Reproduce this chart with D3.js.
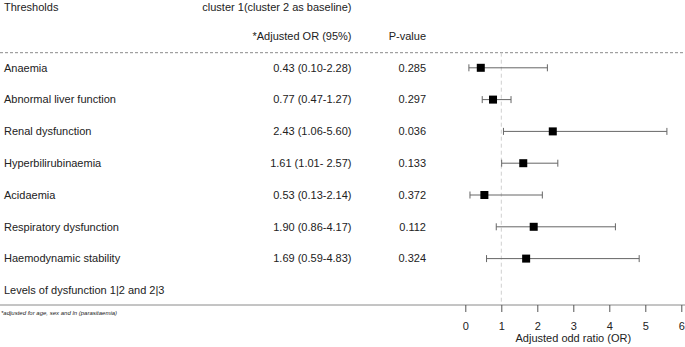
<!DOCTYPE html>
<html lang="en">
<head>
    <meta charset="UTF-8">
    <script src="https://d3js.org/d3.v7.min.js"></script>
    <title>Forest plot</title>
    <style>
      body { margin: 0; background: #fff; }
      text { font-family: "Liberation Sans", Arial, sans-serif; fill: #222; }
    </style>
</head>
<body>
    <script>
    // data
    var thresholds = ["Anaemia", "Abnormal liver function", "Renal dysfunction", "Hyperbilirubinaemia",
        "Acidaemia", "Respiratory dysfunction", "Haemodynamic stability"]
    var orValues = [0.43, 0.77, 2.43, 1.61, 0.53, 1.90, 1.69]
    var ciLow = [0.10, 0.47, 1.06, 1.01, 0.13, 0.86, 0.59]
    var ciHigh = [2.28, 1.27, 5.60, 2.57, 2.14, 4.17, 4.83]
    var orLabels = ["0.43 (0.10-2.28)", "0.77 (0.47-1.27)", "2.43 (1.06-5.60)", "1.61 (1.01- 2.57)",
        "0.53 (0.13-2.14)", "1.90 (0.86-4.17)", "1.69 (0.59-4.83)"]
    var pValues = ["0.285", "0.297", "0.036", "0.133", "0.372", "0.112", "0.324"]
    var xTicks = [0, 1, 2, 3, 4, 5, 6]
    var lastRow = "Levels of dysfunction 1|2 and 2|3"

    var width = 685, height = 347
    var axisY = 305, headLineY = 52.7

    var svg = d3.select("body").append("svg")
        .attr("width", width)
        .attr("height", height)

    var x = d3.scaleLinear()
        .domain([0, 6])
        .range([465.3, 681.3])

    // row positions (7 thresholds + the closing "Levels" row)
    var y = d3.scalePoint()
        .domain(thresholds.concat([lastRow]))
        .range([67.8, 290.4])

    // header
    svg.append("text").attr("x", 4).attr("y", 7).attr("dy", "0.35em")
        .style("font-size", "11px").text("Thresholds")
    svg.append("text").attr("x", 351.5).attr("y", 7).attr("dy", "0.35em")
        .attr("text-anchor", "end").style("font-size", "11px").text("cluster 1(cluster 2 as baseline)")
    svg.append("text").attr("x", 351.5).attr("y", 36).attr("dy", "0.35em")
        .attr("text-anchor", "end").style("font-size", "11px").text("*Adjusted OR (95%)")
    svg.append("text").attr("x", 426).attr("y", 36).attr("dy", "0.35em")
        .attr("text-anchor", "end").style("font-size", "11px").text("P-value")

    svg.append("line")
        .attr("x1", 0).attr("x2", width)
        .attr("y1", headLineY).attr("y2", headLineY)
        .attr("stroke", "#8a8a8a").attr("stroke-dasharray", "3,2")

    // reference line at OR = 1
    svg.append("line")
        .attr("x1", x(1)).attr("x2", x(1))
        .attr("y1", headLineY).attr("y2", axisY)
        .attr("stroke", "#cfcfcf").attr("stroke-dasharray", "4,3")

    // row text
    var rows = svg.selectAll(".row")
        .data(thresholds)
        .enter().append("g")
        .attr("class", "row")

    rows.append("text")
        .attr("x", 4).attr("y", function (d) { return y(d) }).attr("dy", "0.35em")
        .style("font-size", "11px").text(function (d) { return d })
    rows.append("text")
        .attr("x", 351.5).attr("y", function (d) { return y(d) }).attr("dy", "0.35em")
        .attr("text-anchor", "end").style("font-size", "11px")
        .text(function (d, i) { return orLabels[i] })
    rows.append("text")
        .attr("x", 426).attr("y", function (d) { return y(d) }).attr("dy", "0.35em")
        .attr("text-anchor", "end").style("font-size", "11px")
        .text(function (d, i) { return pValues[i] })

    svg.append("text").attr("x", 4).attr("y", y(lastRow)).attr("dy", "0.35em")
        .style("font-size", "11px").text(lastRow)

    // whiskers
    rows.append("line")
        .attr("x1", function (d, i) { return x(ciLow[i]) })
        .attr("x2", function (d, i) { return x(ciHigh[i]) })
        .attr("y1", function (d) { return y(d) })
        .attr("y2", function (d) { return y(d) })
        .attr("stroke", "#666")
    rows.append("line")
        .attr("x1", function (d, i) { return x(ciLow[i]) })
        .attr("x2", function (d, i) { return x(ciLow[i]) })
        .attr("y1", function (d) { return y(d) - 3.5 })
        .attr("y2", function (d) { return y(d) + 3.5 })
        .attr("stroke", "#666")
    rows.append("line")
        .attr("x1", function (d, i) { return x(ciHigh[i]) })
        .attr("x2", function (d, i) { return x(ciHigh[i]) })
        .attr("y1", function (d) { return y(d) - 3.5 })
        .attr("y2", function (d) { return y(d) + 3.5 })
        .attr("stroke", "#666")
    rows.append("rect")
        .attr("x", function (d, i) { return x(orValues[i]) - 4 })
        .attr("y", function (d) { return y(d) - 4 })
        .attr("width", 8).attr("height", 8)
        .attr("fill", "#000")

    // axis
    svg.append("line")
        .attr("x1", 0).attr("x2", width)
        .attr("y1", axisY).attr("y2", axisY)
        .attr("stroke", "#8a8a8a")

    var gx = svg.append("g")
        .attr("transform", "translate(0," + axisY + ")")
        .call(d3.axisBottom(x).tickValues(xTicks).tickFormat(d3.format("d"))
            .tickSize(7).tickPadding(10).tickSizeOuter(0))
    gx.select(".domain").remove()
    gx.selectAll(".tick line").attr("stroke", "#555")
    gx.selectAll(".tick text")
        .style("font-size", "11px")
        .style("font-family", "'Liberation Sans', Arial, sans-serif")
        .attr("fill", "#222")

    svg.append("text")
        .attr("x", (x(0) + x(6)) / 2).attr("y", 342)
        .attr("text-anchor", "middle").style("font-size", "11px")
        .text("Adjusted odd ratio (OR)")

    svg.append("text")
        .attr("x", 1).attr("y", 314.5)
        .style("font-size", "6px").style("font-style", "italic")
        .text("*adjusted for age, sex and ln (parasitaemia)")
    </script>
</body>
</html>
